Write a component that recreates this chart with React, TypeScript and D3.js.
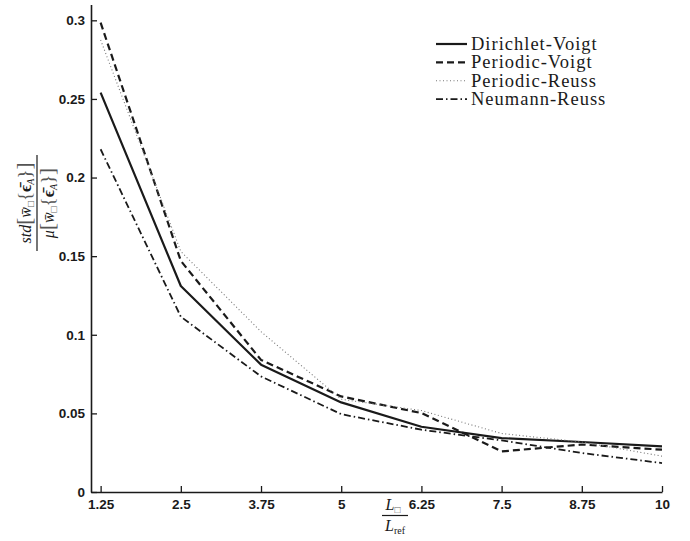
import React, { useEffect, useRef } from "react";
import * as d3 from "d3";

const xValues = [1.25, 2.5, 3.75, 5, 6.25, 7.5, 8.75, 10];
const xTickLabels = ["1.25", "2.5", "3.75", "5", "6.25", "7.5", "8.75", "10"];
const yTicks = [0, 0.05, 0.1, 0.15, 0.2, 0.25, 0.3];
const yTickLabels = ["0", "0.05", "0.1", "0.15", "0.2", "0.25", "0.3"];

const dirichletVoigt = [0.254, 0.131, 0.081, 0.057, 0.0415, 0.0343, 0.0318, 0.029];
const periodicVoigt = [0.2985, 0.147, 0.084, 0.0608, 0.0502, 0.0258, 0.0302, 0.0269];
const periodicReuss = [0.2875, 0.153, 0.102, 0.059, 0.0518, 0.0372, 0.0318, 0.0228];
const neumannReuss = [0.218, 0.1115, 0.0735, 0.0495, 0.0396, 0.0328, 0.0248, 0.0184];

const seriesNames = ["Dirichlet-Voigt", "Periodic-Voigt", "Periodic-Reuss", "Neumann-Reuss"];

const W = 690;
const H = 541;

export default function App() {
  const ref = useRef<SVGSVGElement>(null);

  useEffect(() => {
    const svg = d3.select(ref.current);
    svg.selectAll("*").remove();

    const x = d3.scaleLinear().domain([1.1, 10]).range([91, 662]);
    const y = d3.scaleLinear().domain([0, 0.31]).range([492, 4.6]);

    const styles = [
      { stroke: "#1a1a1a", width: 2.2, dash: null },
      { stroke: "#1a1a1a", width: 2.2, dash: "7,4" },
      { stroke: "#777", width: 1.1, dash: "1,2.5" },
      { stroke: "#1a1a1a", width: 1.8, dash: "7,3,1.5,3" },
    ];
    const data = [dirichletVoigt, periodicVoigt, periodicReuss, neumannReuss];

    const line = d3
      .line<number>()
      .x((d, i) => x(xValues[i]))
      .y((d) => y(d));

    data.forEach((vals, k) => {
      svg
        .append("path")
        .datum(vals)
        .attr("d", line)
        .attr("fill", "none")
        .attr("stroke", styles[k].stroke)
        .attr("stroke-width", styles[k].width)
        .attr("stroke-dasharray", styles[k].dash)
        .attr("stroke-linejoin", "round");
    });

    // axes
    const xAxis = d3
      .axisBottom(x)
      .tickValues(xValues)
      .tickFormat((d, i) => xTickLabels[i])
      .tickSizeInner(-6)
      .tickSizeOuter(0)
      .tickPadding(7);
    const gx = svg.append("g").attr("transform", "translate(0,492)").call(xAxis);

    const yAxis = d3
      .axisLeft(y)
      .tickValues(yTicks)
      .tickFormat((d, i) => yTickLabels[i])
      .tickSizeInner(-6)
      .tickSizeOuter(0)
      .tickPadding(6);
    const gy = svg.append("g").attr("transform", "translate(91,0)").call(yAxis);

    [gx, gy].forEach((g) => {
      g.selectAll("path").attr("stroke", "#1a1a1a").attr("stroke-width", 1.6);
      g.selectAll("line").attr("stroke", "#1a1a1a").attr("stroke-width", 1.3);
      g.selectAll("text")
        .attr("font-family", "Liberation Sans, Arial, sans-serif")
        .attr("font-weight", "bold")
        .attr("font-size", 13.5)
        .attr("fill", "#1a1a1a");
    });

    // legend
    const lg = svg.append("g");
    seriesNames.forEach((name, k) => {
      const ly = 44 + k * 18.4;
      lg.append("line")
        .attr("x1", 436)
        .attr("x2", 467)
        .attr("y1", ly)
        .attr("y2", ly)
        .attr("stroke", styles[k].stroke)
        .attr("stroke-width", styles[k].width)
        .attr("stroke-dasharray", styles[k].dash);
      lg.append("text")
        .attr("x", 471)
        .attr("y", ly + 6)
        .attr("font-family", "Liberation Serif, Times New Roman, serif")
        .attr("font-size", 18.5)
        .attr("letter-spacing", 1)
        .attr("fill", "#1a1a1a")
        .text(name);
    });

    // x label: L_box / L_ref
    const xl = svg.append("g").attr("transform", "translate(395,0)")
      .attr("font-family", "Liberation Serif, Times New Roman, serif")
      .attr("fill", "#1a1a1a");
    const xn = xl.append("text").attr("x", -2).attr("y", 510).attr("text-anchor", "middle").attr("font-size", 16);
    xn.append("tspan").attr("font-style", "italic").text("L");
    xn.append("tspan").attr("font-size", 10).attr("dy", 3).attr("fill", "#666").text("□");
    xl.append("line").attr("x1", -13).attr("x2", 13).attr("y1", 515.5).attr("y2", 515.5)
      .attr("stroke", "#1a1a1a").attr("stroke-width", 1.2);
    const xd = xl.append("text").attr("x", 0).attr("y", 531).attr("text-anchor", "middle").attr("font-size", 16);
    xd.append("tspan").attr("font-style", "italic").text("L");
    xd.append("tspan").attr("font-size", 10).attr("dy", 3).text("ref");

    // y label: std[...] / mu[...]
    const yl = svg.append("g").attr("transform", "translate(37,203) rotate(-90)")
      .attr("font-family", "Liberation Serif, Times New Roman, serif")
      .attr("fill", "#1a1a1a");
    const term = (t: d3.Selection<SVGTextElement, unknown, null, undefined>, head: string) => {
      t.append("tspan").attr("font-style", "italic").text(head);
      t.append("tspan").attr("font-size", 21).attr("fill", "#555").text("[");
      t.append("tspan").attr("font-style", "italic").text("w\u0304");
      t.append("tspan").attr("font-size", 10).attr("dy", 3).attr("fill", "#666").text("□");
      t.append("tspan").attr("dy", -3).attr("font-size", 19).attr("fill", "#555").text("{");
      t.append("tspan").attr("font-weight", "bold").attr("font-size", 17).text("\u03f5\u0304");
      t.append("tspan").attr("font-size", 10).attr("dy", 3).attr("font-style", "italic").text("A");
      t.append("tspan").attr("dy", -3).attr("font-size", 19).attr("fill", "#555").text("}");
      t.append("tspan").attr("font-size", 21).attr("fill", "#555").text("]");
    };
    const yn = yl.append("text").attr("x", 0).attr("y", -6).attr("text-anchor", "middle").attr("font-size", 16);
    term(yn, "std");
    yl.append("line").attr("x1", -48).attr("x2", 48).attr("y1", 0).attr("y2", 0)
      .attr("stroke", "#1a1a1a").attr("stroke-width", 1.2);
    const yd = yl.append("text").attr("x", 0).attr("y", 17).attr("text-anchor", "middle").attr("font-size", 16);
    term(yd, "μ");
  }, []);

  return <svg ref={ref} width={W} height={H} style={{ position: "absolute", left: 0, top: 0 }} />;
}
